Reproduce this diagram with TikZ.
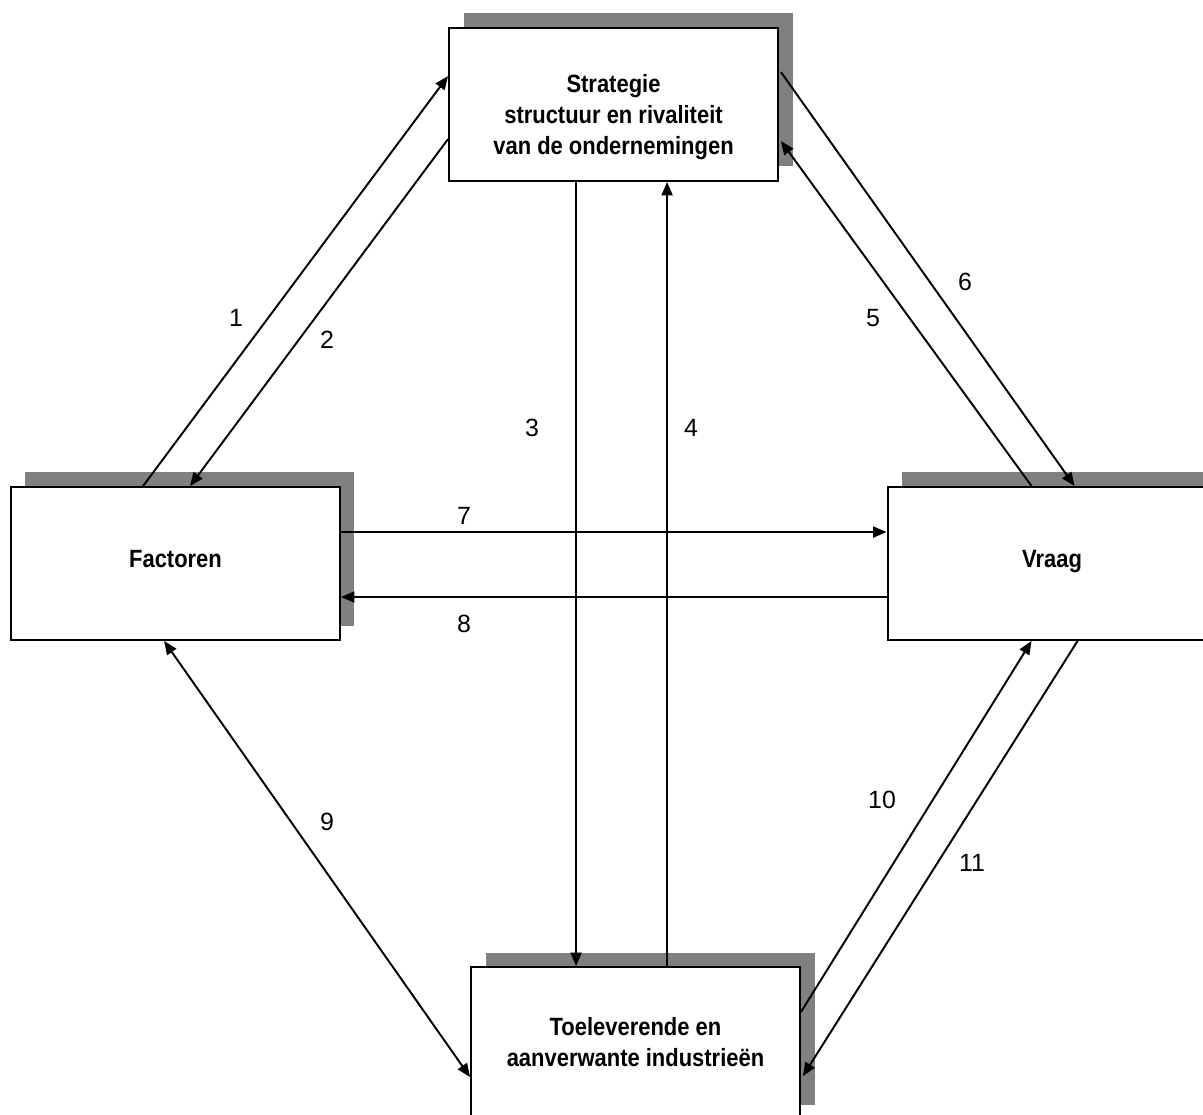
\documentclass[tikz,border=0pt]{standalone}
\usepackage{fontspec}
\setmainfont{Liberation Sans}
\newfontfamily\boxfamily[FakeStretch=0.88]{Liberation Sans}
\usetikzlibrary{arrows.meta,calc}
\definecolor{shadowgray}{RGB}{128,128,128}
\newcommand{\diagfont}{\fontsize{14.2}{17.6}\selectfont}
\newcommand{\boxtextfont}{\boxfamily\bfseries\fontsize{14.2}{17.6}\selectfont}
\begin{document}
\begin{tikzpicture}[x=0.02cm,y=-0.02cm,
  box/.style={draw=black, line width=1.1pt, fill=white, minimum width=6.58cm, minimum height=3.06cm, inner sep=0pt},
  shadowbox/.style={fill=shadowgray},
  boxtext/.style={font=\boxtextfont, align=center, inner sep=0pt},
  conn/.style={line width=1.1pt, -{Triangle[length=0.27cm,width=0.22cm]}},
  dconn/.style={line width=1.1pt, {Triangle[length=0.27cm,width=0.22cm]}-{Triangle[length=0.27cm,width=0.22cm]}},
  num/.style={font=\diagfont, inner sep=0pt}]
\useasboundingbox (0,0) rectangle (1203,1115);
% shadows
\fill[shadowbox] (464,13) rectangle (793,166);
\fill[shadowbox] (25,472) rectangle (354,626);
\fill[shadowbox] (902,472) rectangle (1232,626);
\fill[shadowbox] (486,953) rectangle (815,1105);
% boxes
\node[box] (T) at (613.5,104.5) {};
\node[box] (F) at (175.5,563.5) {};
\node[box] (V) at (1052,563.5) {};
\node[box] (B) at (635.5,1043.5) {};
% box texts
\node[boxtext] (Tt) at (613.5,117) {Strategie\\structuur en rivaliteit\\van de ondernemingen};
\node[boxtext, anchor=base] (Ft) at (175.5,567) {Factoren};
\node[boxtext, anchor=base] (Vt) at (1052,567) {Vraag};
\node[boxtext] (Bt) at (635.5,1042) {Toeleverende en\\aanverwante industrieën};
% connectors
\draw[conn] ($(F.north west)+(133,0)$) -- ($(T.north west)+(0,49)$);
\draw[conn] ($(T.north west)+(0,112)$) -- ($(F.north west)+(180,0)$);
\draw[conn] ($(T.south west)+(128,0)$) -- ($(B.north west)+(106,0)$);
\draw[conn] ($(B.north west)+(197,0)$) -- ($(T.south west)+(219,0)$);
\draw[conn] ($(V.north west)+(145,0)$) -- ($(T.north east)+(2,114)$);
\draw[conn] ($(T.north east)+(2,45)$) -- ($(V.north west)+(188,0)$);
\draw[conn] ($(F.north east)+(0,46)$) -- ($(V.north west)+(0,46)$);
\draw[conn] ($(V.north west)+(0,111)$) -- ($(F.north east)+(0,111)$);
\draw[dconn] ($(F.south west)+(154,0)$) -- ($(B.north west)+(0,111)$);
\draw[conn] ($(B.north east)+(0,46)$) -- ($(V.south west)+(145,0)$);
\draw[conn] ($(V.south west)+(191,0)$) -- ($(B.north east)+(2,110)$);
% labels
\node[num] (n1) at (236,318) {1};
\node[num] (n2) at (327,340) {2};
\node[num] (n3) at (532,428) {3};
\node[num] (n4) at (691,428) {4};
\node[num] (n5) at (873,318) {5};
\node[num] (n6) at (965,282) {6};
\node[num] (n7) at (464,516) {7};
\node[num] (n8) at (464,624) {8};
\node[num] (n9) at (327,822) {9};
\node[num] (n10) at (882,800) {10};
\node[num] (n11) at (972,863) {11};
\end{tikzpicture}
\end{document}
